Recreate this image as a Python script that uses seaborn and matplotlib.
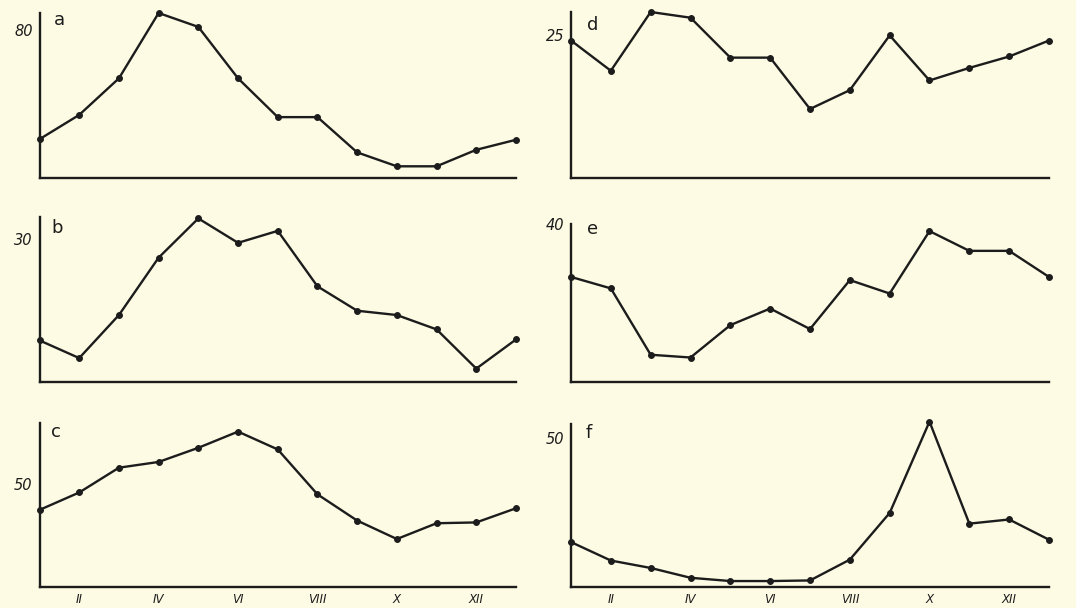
import matplotlib
matplotlib.use("Agg")
import matplotlib.pyplot as plt
import seaborn as sns
import pandas as pd

months = list(range(1, 14))
month_labels = ["II", "IV", "VI", "VIII", "X", "XII"]
label_positions = [2, 4, 6, 8, 10, 12]

series_a = [20.9, 34.0, 53.7, 88.9, 81.4, 53.7, 32.8, 32.8, 13.8, 6.3, 6.3, 15.2, 20.6]
series_b = [8.7, 5.0, 14.0, 26.0, 34.2, 29.1, 31.6, 20.0, 14.9, 14.0, 11.0, 2.8, 8.9]
series_c = [37.6, 46.1, 58.2, 61.0, 67.9, 75.8, 67.1, 45.2, 32.4, 23.4, 31.1, 31.5, 38.4]
series_d = [24.1, 18.8, 29.1, 28.1, 21.1, 21.1, 12.1, 15.4, 25.0, 17.1, 19.3, 21.3, 24.1]
series_e = [26.6, 23.7, 6.9, 6.2, 14.4, 18.6, 13.4, 25.8, 22.4, 38.2, 33.2, 33.2, 26.6]
series_f = [15.1, 8.9, 6.4, 3.1, 2.0, 2.0, 2.2, 9.2, 24.9, 55.6, 21.3, 22.7, 15.9]

panel_names = ["a", "b", "c", "d", "e", "f"]
panel_series = [series_a, series_b, series_c, series_d, series_e, series_f]
panel_tick = [80, 30, 50, 25, 40, 50]
panel_top = [88.9, 34.5, 80.0, 29.1, 40.0, 54.8]

sns.set_style("white")
bg = "#FDFBE4"
ink = "#1c1c1c"
plt.rcParams["font.family"] = ["DejaVu Sans"]

W, H = 1076, 608
fig = plt.figure(figsize=(W / 100, H / 100), dpi=100, facecolor=bg)

# pixel boxes: (left, right, top, bottom)
boxes = [
    (39.5, 516, 13, 178),
    (39.5, 516, 217, 382),
    (39.5, 516, 423, 587),
    (571, 1049, 12, 178),
    (571, 1049, 224, 382),
    (571, 1049, 424, 587),
]
letter_offsets = [(20, -7), (18, -11), (16, -9), (22, -13), (22, -5), (18, -9)]

tick_text = {p: lab for p, lab in zip(label_positions, month_labels)}

for i, (name, vals, tk, top) in enumerate(zip(panel_names, panel_series, panel_tick, panel_top)):
    l, r, t, b = boxes[i]
    ax = fig.add_axes([l / W, 1 - b / H, (r - l) / W, (b - t) / H])
    ax.set_facecolor(bg)
    df = pd.DataFrame({"month": months, "value": vals})
    sns.lineplot(data=df, x="month", y="value", ax=ax, color=ink, linewidth=1.7,
                 marker="o", markersize=4.2, markeredgecolor=ink, clip_on=False)
    ax.set_xlim(1, 13)
    ax.set_ylim(0, top)
    for s in ["top", "right"]:
        ax.spines[s].set_visible(False)
    for s in ["left", "bottom"]:
        ax.spines[s].set_color(ink)
        ax.spines[s].set_linewidth(1.7)
    ax.set_xlabel("")
    ax.set_ylabel("")
    ax.set_yticks([tk])
    ax.set_yticklabels([str(tk)], fontsize=10.5, style="italic", color=ink)
    ax.tick_params(axis="y", length=4, width=1.2, color=ink, pad=1)
    if i in (2, 5):
        ax.set_xticks(months[1:])
        ax.set_xticklabels([tick_text.get(m, "") for m in months[1:]],
                           fontsize=8.5, style="italic", color=ink)
        ax.tick_params(axis="x", length=3, width=1.2, color=ink, pad=1)
    else:
        ax.set_xticks([])
    ax.annotate(name, xy=(0, 1), xycoords="axes fraction",
                xytext=letter_offsets[i], textcoords="offset pixels",
                fontsize=13, color=ink, ha="center", va="center")

fig.savefig("out.png", dpi=100, facecolor=bg)
